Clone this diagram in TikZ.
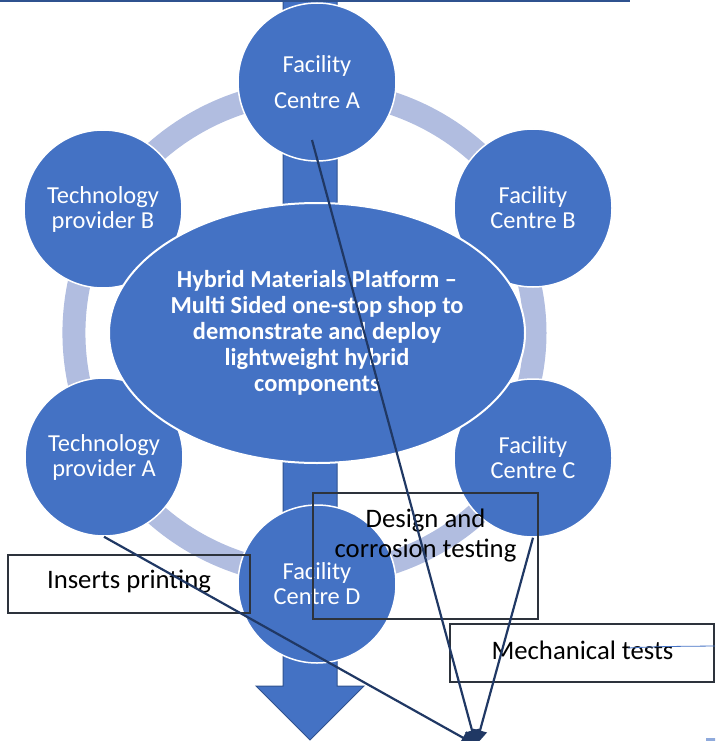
\documentclass[tikz,border=0pt]{standalone}
\usepackage{fontspec}
\setmainfont{Carlito}
\usetikzlibrary{shapes.geometric,arrows.meta,calc}
\definecolor{accent}{HTML}{4472C4}
\definecolor{accentedge}{HTML}{2F528F}
\definecolor{ringblue}{HTML}{B1BDE0}
\definecolor{navy}{HTML}{203864}
\definecolor{frame}{HTML}{2D333C}
\definecolor{lightblue}{HTML}{8FAADC}

\begin{document}
\begin{tikzpicture}[x=1pt,y=-1pt,
  member/.style={circle, fill=accent, draw=white, line width=1.5pt,
    minimum size=158pt, inner sep=0pt, text=white, align=center,
    font=\fontsize{24.4}{25}\selectfont},
  hub/.style={ellipse, fill=accent, draw=white, line width=2pt,
    minimum width=416pt, minimum height=260pt, inner sep=0pt},
  hubtext/.style={text=white, align=center, inner sep=0pt,
    font=\fontsize{24.4}{26}\selectfont\bfseries},
  tagbox/.style={draw=frame, line width=1.4pt, inner sep=0pt},
  tagtext/.style={align=center, inner sep=0pt,
    font=\fontsize{26.7}{30}\selectfont},
  feed/.style={draw=navy, line width=2.2pt,
    -{Triangle[length=15pt,width=14pt]}},
  band/.style={draw=ringblue, line width=23pt},
]
\useasboundingbox (0,0) rectangle (715,741);
\clip (0,0) rectangle (715,741);

% downward flow arrow behind the cycle
\filldraw[fill=accent, draw=accentedge, line width=1pt]
  (283,-5) -- (337,-5) -- (337,686) -- (364,686) -- (310,740)
  -- (256,686) -- (283,686) -- cycle;
\draw[accentedge, line width=1.5pt] (-1,1) -- (630,1);

% ring linking the partners
\coordinate (ringc) at (316,333);
\draw[band] (ringc) ++(20:242) arc[start angle=20, end angle=340, radius=242];
\draw[band] (ringc) ++(-14:219) arc[start angle=-14, end angle=14, radius=219];

% partners
\node[member] (fa) at (317,82)  {Facility\\[11pt]Centre A};
\node[member] (fb) at (533,208) {Facility\\Centre B};
\node[member] (fc) at (533,458) {Facility\\Centre C};
\node[member] (fd) at (317,584) {Facility\\Centre D};
\node[member] (ta) at (104,457) {Technology\\provider A};
\node[member] (tb) at (103,209) {Technology\\provider B};

% central platform
\node[hub] (hub) at (317,333) {};
\node[hubtext] (hubtxt) at (hub.center)
  {Hybrid Materials Platform –\\Multi Sided one-stop shop to\\demonstrate and deploy\\lightweight hybrid\\components};

% activity labels
\node[tagbox, minimum width=242pt, minimum height=58pt] (ins) at (129,584) {};
\node[tagtext] (instxt) at (129,582) {Inserts printing};
\node[tagbox, minimum width=225pt, minimum height=126pt] (dct) at (425.5,556) {};
\node[tagtext] (dcttxt) at (425.5,536) {Design and\\corrosion testing};
\node[tagbox, minimum width=264pt, minimum height=58pt] (mech) at (582,653) {};
\node[tagtext] (mechtxt) at (582.5,650) {Mechanical tests};

% stray marks
\coordinate (strayA) at (628,648);
\coordinate (strayB) at (716,646);
\draw[accent, line width=0.8pt] (strayA) .. controls (660,646.5) .. (strayB);
\fill[lightblue] (706,738) rectangle (716,742);

% feeds into the common point
\coordinate (hit) at (476,745);
\draw[feed] ($(fa.center)+(-5,58)$) -- (hit);
\draw[feed] (fc.south) -- (hit);
\draw[feed] (ta.south) -- (hit);
\end{tikzpicture}
\end{document}
